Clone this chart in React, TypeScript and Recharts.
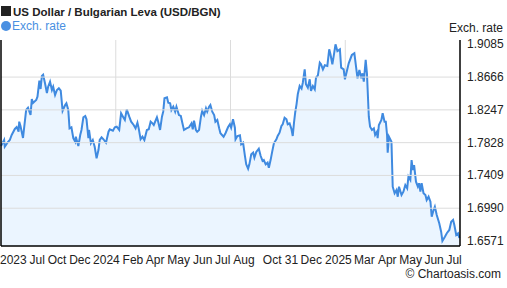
import React from 'react';
import { ComposedChart, Area, XAxis, YAxis, CartesianGrid, ReferenceLine } from 'recharts';

// days since the start of the 2-year window
const days = [
  0, 5, 6, 10, 14, 17, 22, 25, 28, 29, 31, 35, 37, 40, 43, 47, 49, 51, 56, 58,
  61, 63, 65, 67, 70, 73, 75, 78, 81, 83, 86, 89, 92, 95, 98, 102, 104, 107, 109, 112,
  115, 118, 119, 123, 126, 128, 131, 134, 136, 139, 140, 143, 146, 149, 152, 155, 157, 160, 163, 167,
  171, 173, 178, 181, 184, 188, 191, 194, 197, 200, 204, 207, 211, 214, 217, 219, 222, 225, 228, 232,
  235, 238, 241, 243, 248, 250, 253, 256, 258, 260, 264, 266, 269, 271, 274, 277, 279, 283, 286, 288,
  291, 295, 299, 303, 305, 307, 310, 312, 315, 318, 320, 323, 326, 328, 331, 333, 336, 339, 341, 344,
  347, 349, 354, 357, 361, 364, 366, 369, 372, 373, 376, 380, 382, 385, 388, 390, 393, 395, 398, 401,
  403, 406, 410, 413, 416, 418, 421, 424, 426, 429, 431, 434, 438, 440, 443, 446, 448, 451, 454, 456,
  459, 462, 464, 466, 468, 470, 472, 475, 478, 480, 483, 485, 488, 491, 493, 496, 499, 501, 504, 507,
  509, 512, 515, 519, 522, 524, 527, 530, 532, 535, 539, 541, 545, 547, 553, 558, 562, 567, 570, 573,
  575, 577, 580, 582, 585, 587, 590, 593, 595, 598, 599, 601, 605, 607, 610, 612, 614, 615, 617, 621,
  623, 626, 629, 631, 633, 637, 640, 643, 646, 648, 651, 653, 655, 657, 660, 663, 665, 667, 669, 672,
  675, 677, 680, 683, 685, 688, 690, 693, 697, 700, 702, 706, 709, 713, 716, 719, 721, 724, 727, 729,
];

const rates = [
  1.7785, 1.7862, 1.7776, 1.7824, 1.7862, 1.7926, 1.8003, 1.8028, 1.7968, 1.8096, 1.8041, 1.7888, 1.8032, 1.8245, 1.8275, 1.8181, 1.8386, 1.8335, 1.8373, 1.8415,
  1.8620, 1.8514, 1.8680, 1.8696, 1.8587, 1.8463, 1.8543, 1.8607, 1.8501, 1.8543, 1.8437, 1.8501, 1.8523, 1.8492, 1.8236, 1.8309, 1.8331, 1.8245, 1.8011, 1.8024,
  1.7884, 1.7840, 1.7904, 1.7785, 1.7926, 1.7990, 1.8152, 1.8169, 1.8126, 1.7884, 1.7990, 1.7820, 1.7862, 1.7776, 1.7628, 1.7734, 1.7862, 1.7896, 1.7871, 1.7827,
  1.7968, 1.7999, 1.7981, 1.8024, 1.8032, 1.7990, 1.8203, 1.8160, 1.8118, 1.8254, 1.8160, 1.8096, 1.8054, 1.8011, 1.8083, 1.8011, 1.7871, 1.7904, 1.7862, 1.7990,
  1.7999, 1.8096, 1.8075, 1.8054, 1.8152, 1.8096, 1.7990, 1.8160, 1.8224, 1.8395, 1.8408, 1.8339, 1.8331, 1.8245, 1.8288, 1.8224, 1.8288, 1.8181, 1.8169, 1.8096,
  1.7990, 1.8011, 1.8024, 1.8075, 1.7999, 1.8109, 1.7990, 1.7968, 1.7990, 1.8160, 1.8236, 1.8181, 1.8267, 1.8224, 1.8288, 1.8309, 1.8224, 1.8181, 1.8096, 1.8118,
  1.8011, 1.7948, 1.7904, 1.7948, 1.8024, 1.8063, 1.8019, 1.8126, 1.8019, 1.7871, 1.7913, 1.7922, 1.7807, 1.7827, 1.7657, 1.7551, 1.7495, 1.7551, 1.7679, 1.7700,
  1.7636, 1.7709, 1.7751, 1.7657, 1.7594, 1.7606, 1.7551, 1.7572, 1.7508, 1.7615, 1.7700, 1.7820, 1.7871, 1.7913, 1.7955, 1.8041, 1.8063, 1.8147, 1.8126, 1.8063,
  1.8075, 1.7999, 1.7913, 1.8083, 1.8220, 1.8318, 1.8446, 1.8552, 1.8518, 1.8594, 1.8765, 1.8574, 1.8530, 1.8638, 1.8488, 1.8552, 1.8510, 1.8658, 1.8689, 1.8850,
  1.8829, 1.8765, 1.8817, 1.8808, 1.9021, 1.8957, 1.8829, 1.8978, 1.9085, 1.8999, 1.9021, 1.8786, 1.8765, 1.8638, 1.8842, 1.8948, 1.8970, 1.8650, 1.8757, 1.8650,
  1.8714, 1.8607, 1.8885, 1.8714, 1.8160, 1.8032, 1.7990, 1.8011, 1.7926, 1.7968, 1.7884, 1.8054, 1.8118, 1.8203, 1.8096, 1.8096, 1.7926, 1.7700, 1.7904, 1.7840,
  1.7265, 1.7181, 1.7223, 1.7137, 1.7265, 1.7159, 1.7201, 1.7287, 1.7245, 1.7393, 1.7351, 1.7606, 1.7479, 1.7542, 1.7329, 1.7265, 1.7309, 1.7201, 1.7309, 1.7181,
  1.7159, 1.7095, 1.7137, 1.7073, 1.6882, 1.6967, 1.7010, 1.6903, 1.6797, 1.6690, 1.6571, 1.6626, 1.6670, 1.6712, 1.6818, 1.6840, 1.6776, 1.6648, 1.6670, 1.6610,
];

const yTicks = [1.6571, 1.699, 1.7409, 1.7828, 1.8247, 1.8666, 1.9085];
const gridRates = [1.699, 1.7409, 1.7828, 1.8247, 1.8666];
const gridDays = [182.5, 365, 547.5];

const xTickDays = [0, 47, 76, 110, 148, 195, 232, 266, 307, 342, 371, 418, 453, 478, 517, 563, 601, 635, 675, 710];
const xTickLabels = ['2023', 'Jul', 'Oct', 'Dec', '2024', 'Feb', 'Apr', 'May', 'Jun', 'Jul', 'Aug', 'Oct', '31', 'Dec', '2025', 'Mar', 'Apr', 'May', 'Jun', 'Jul'];

const data = days.map((d, i) => ({ day: d, rate: rates[i] }));

const FONT = '"Liberation Sans", Arial, sans-serif';
const BLUE = '#4a90e2';
const Y_DOMAIN = [1.6507, 1.914];

const XTick = (props: any) => {
  const { x, y, index } = props;
  return (
    <text x={x - 1} y={y + 16} textAnchor="start" fontSize={12} fontFamily={FONT} fill="#222">
      {xTickLabels[index]}
    </text>
  );
};

const YTick = (props: any) => {
  const { x, y, payload } = props;
  return (
    <text x={x + 5} y={y + 4} textAnchor="start" fontSize={12} fontFamily={FONT} fill="#222">
      {payload.value.toFixed(4)}
    </text>
  );
};

export default function App() {
  return (
    <div style={{ position: 'absolute', left: 0, top: 0, width: 507, height: 288, background: '#fff' }}>
      <ComposedChart width={507} height={288} data={data} margin={{ top: 40, right: 0, bottom: 0, left: 1 }}>
        <CartesianGrid stroke="#dcdcdc" horizontal={false} verticalValues={gridDays} />
        {gridRates.map((v) => (
          <ReferenceLine key={v} y={v} stroke="#dcdcdc" />
        ))}
        <XAxis
          dataKey="day"
          type="number"
          domain={[0, 730]}
          ticks={xTickDays}
          interval={0}
          tickLine={false}
          tickSize={0}
          axisLine={{ stroke: '#000', strokeWidth: 1.5 }}
          height={42}
          tick={<XTick />}
        />
        <YAxis
          orientation="right"
          domain={Y_DOMAIN}
          ticks={yTicks}
          interval={0}
          tickLine={false}
          tickSize={0}
          axisLine={{ stroke: '#000', strokeWidth: 1.5 }}
          width={47}
          tick={<YTick />}
        />
        <Area
          type="linear"
          dataKey="rate"
          stroke="#3f8ae0"
          strokeWidth={2}
          fill="#ebf5ff"
          fillOpacity={1}
          dot={false}
          activeDot={false}
          isAnimationActive={false}
        />
        <ReferenceLine x={0} stroke="#000" strokeWidth={1.5} />
      </ComposedChart>
      <svg width={507} height={288} style={{ position: 'absolute', left: 0, top: 0, pointerEvents: 'none' }}>
        <rect x={1} y={6} width={10} height={10} fill="#222" />
        <text x={13} y={16} fontSize={11.5} fontWeight="bold" fontFamily={FONT} fill="#222">
          US Dollar / Bulgarian Leva (USD/BGN)
        </text>
        <circle cx={6} cy={26} r={5} fill={BLUE} />
        <text x={12} y={30} fontSize={12} fontFamily={FONT} fill={BLUE}>
          Exch. rate
        </text>
        <text x={503} y={32} textAnchor="end" fontSize={12} fontFamily={FONT} fill="#222">
          Exch. rate
        </text>
        <text x={501} y={278} textAnchor="end" fontSize={12} fontFamily={FONT} fill="#222">
          © Chartoasis.com
        </text>
      </svg>
    </div>
  );
}
